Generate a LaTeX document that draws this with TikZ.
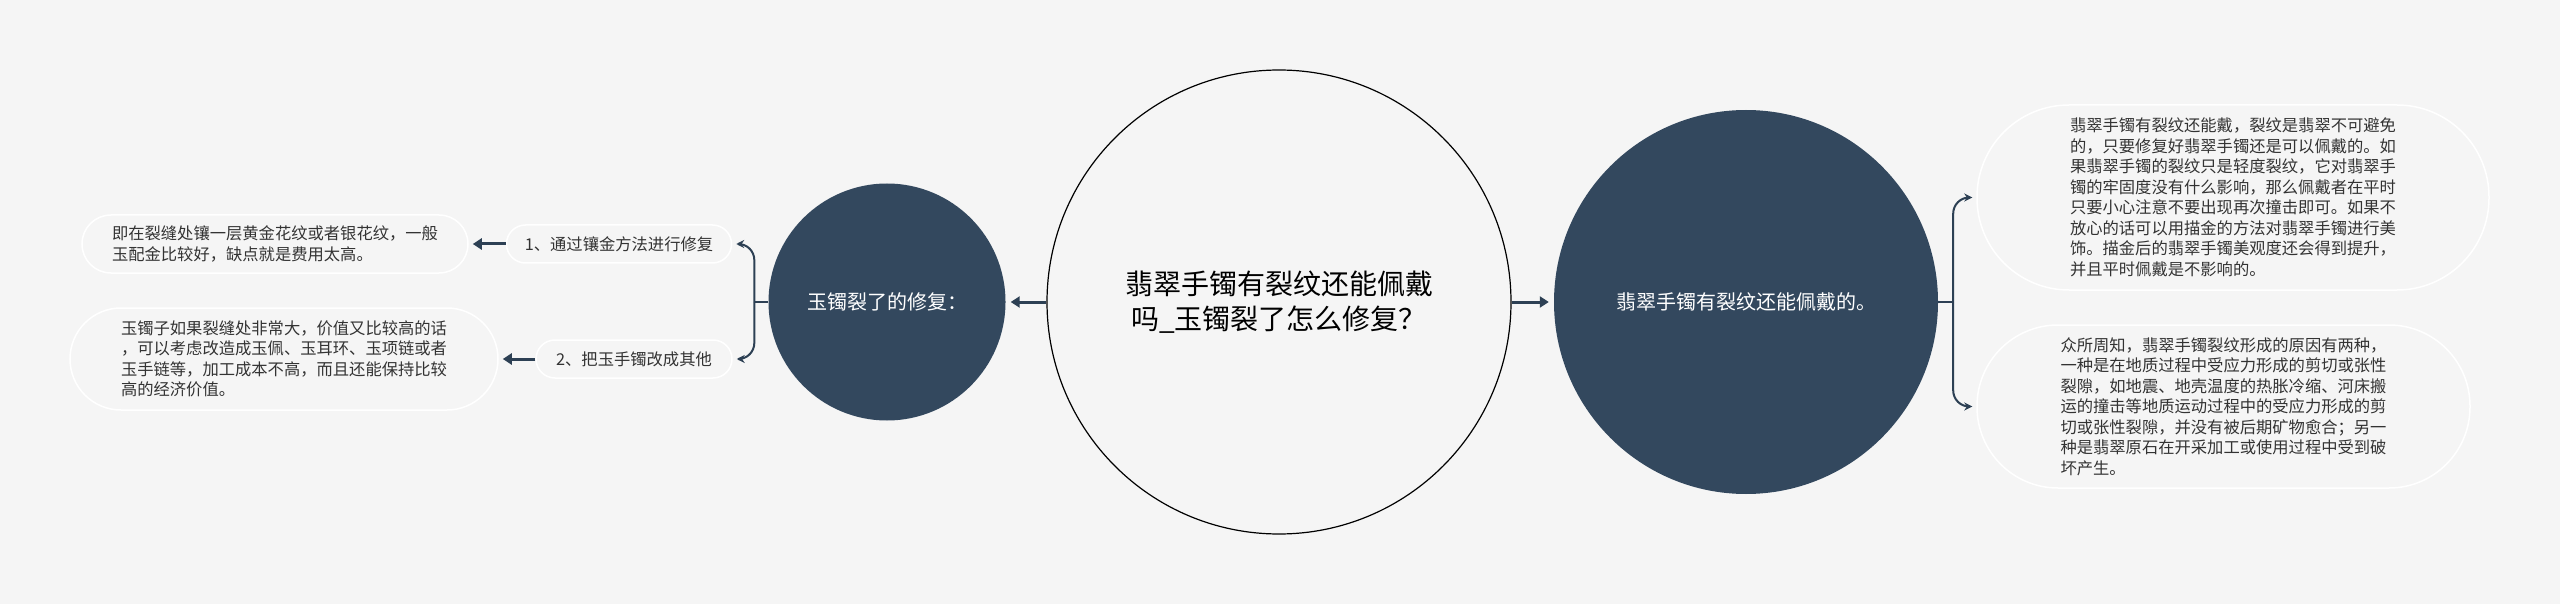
\documentclass[tikz,border=0pt]{standalone}
\usepackage{fontspec}
\setmainfont{Noto Sans CJK SC}
\usetikzlibrary{arrows.meta}
\definecolor{sfondo}{HTML}{F5F5F5}
\definecolor{scuro}{HTML}{33485E}
\definecolor{blu}{HTML}{2D4054}
\definecolor{grigio}{HTML}{333333}
\begin{document}
\begin{tikzpicture}[x=1pt,y=-1pt]
\tikzset{centro/.style={circle,minimum size=464pt,inner sep=0pt,draw=black,line width=1.2pt,fill=sfondo,align=center,text=black,font=\fontsize{28}{35}\selectfont}}
\tikzset{nodo/.style={circle,inner sep=0pt,fill=scuro,text=white,font=\fontsize{20}{24}\selectfont}}
\tikzset{nodo1/.style={rectangle,rounded corners=19pt,minimum width=225pt,minimum height=38pt,inner sep=0pt,draw=white,line width=1.5pt,text=grigio,font=\fontsize{16.3}{20.5}\selectfont}}
\tikzset{nodo2/.style={rectangle,inner sep=0pt,draw=white,line width=1.5pt,align=left,text=grigio,font=\fontsize{16.3}{20.5}\selectfont}}
\tikzset{freccia/.style={-{Triangle[length=9pt,width=11pt]},line width=3pt,draw=blu,shorten >=5pt}}
\tikzset{graffa/.style={-{Stealth[length=8pt,width=8pt]},line width=2pt,draw=blu,rounded corners=16pt,shorten >=4pt}}

  \useasboundingbox (0,0) rectangle (2560,604);
  \fill[sfondo] (0,0) rectangle (2560,604);

  \draw (1279,302) node[centro](c) {翡翠手镯有裂纹还能佩戴\\吗\_玉镯裂了怎么修复？};
  \draw (887,302) node[nodo,minimum size=237pt](l) {玉镯裂了的修复：};
  \draw (1746,302) node[nodo,minimum size=384pt](r) {翡翠手镯有裂纹还能佩戴的。};

  \draw (619,244) node[nodo1](a1) {1、通过镶金方法进行修复};
  \draw (634,359) node[nodo1,minimum width=196pt](a2) {2、把玉手镯改成其他};

  \draw (275,244) node[nodo2,minimum width=386pt,minimum height=58pt,rounded corners=29pt](b1)
    {即在裂缝处镶一层黄金花纹或者银花纹，一般\\玉配金比较好，缺点就是费用太高。};
  \draw (284,359) node[nodo2,minimum width=428pt,minimum height=102pt,rounded corners=51pt](b2)
    {玉镯子如果裂缝处非常大，价值又比较高的话\\，可以考虑改造成玉佩、玉耳环、玉项链或者\\玉手链等，加工成本不高，而且还能保持比较\\高的经济价值。};

  \draw (2233,197.5) node[nodo2,minimum width=512pt,minimum height=185pt,rounded corners=92pt](d1)
    {翡翠手镯有裂纹还能戴，裂纹是翡翠不可避免\\的，只要修复好翡翠手镯还是可以佩戴的。如\\果翡翠手镯的裂纹只是轻度裂纹，它对翡翠手\\镯的牢固度没有什么影响，那么佩戴者在平时\\只要小心注意不要出现再次撞击即可。如果不\\放心的话可以用描金的方法对翡翠手镯进行美\\饰。描金后的翡翠手镯美观度还会得到提升，\\并且平时佩戴是不影响的。};
  \draw (2223.5,406.5) node[nodo2,minimum width=493pt,minimum height=163pt,rounded corners=81pt](d2)
    {众所周知，翡翠手镯裂纹形成的原因有两种，\\一种是在地质过程中受应力形成的剪切或张性\\裂隙，如地震、地壳温度的热胀冷缩、河床搬\\运的撞击等地质运动过程中的受应力形成的剪\\切或张性裂隙，并没有被后期矿物愈合；另一\\种是翡翠原石在开采加工或使用过程中受到破\\坏产生。};

  % frecce
  \draw[freccia] (c) -- (l);
  \draw[freccia] (c) -- (r);
  \draw[freccia,shorten >=4pt] (a1) -- (b1);
  \draw[freccia,shorten >=4pt] (a2) -- (b2);

  % graffe
  \draw[line width=2pt,blu] (l.west) -- ++(-14,0) coordinate (g1);
  \draw[graffa] (g1) |- (a1.east);
  \draw[graffa] (g1) |- (a2.east);
  \draw[line width=2pt,blu] (r.east) -- ++(15,0) coordinate (g2);
  \draw[graffa] (g2) |- (d1.west);
  \draw[graffa] (g2) |- (d2.west);
\end{tikzpicture}
\end{document}
